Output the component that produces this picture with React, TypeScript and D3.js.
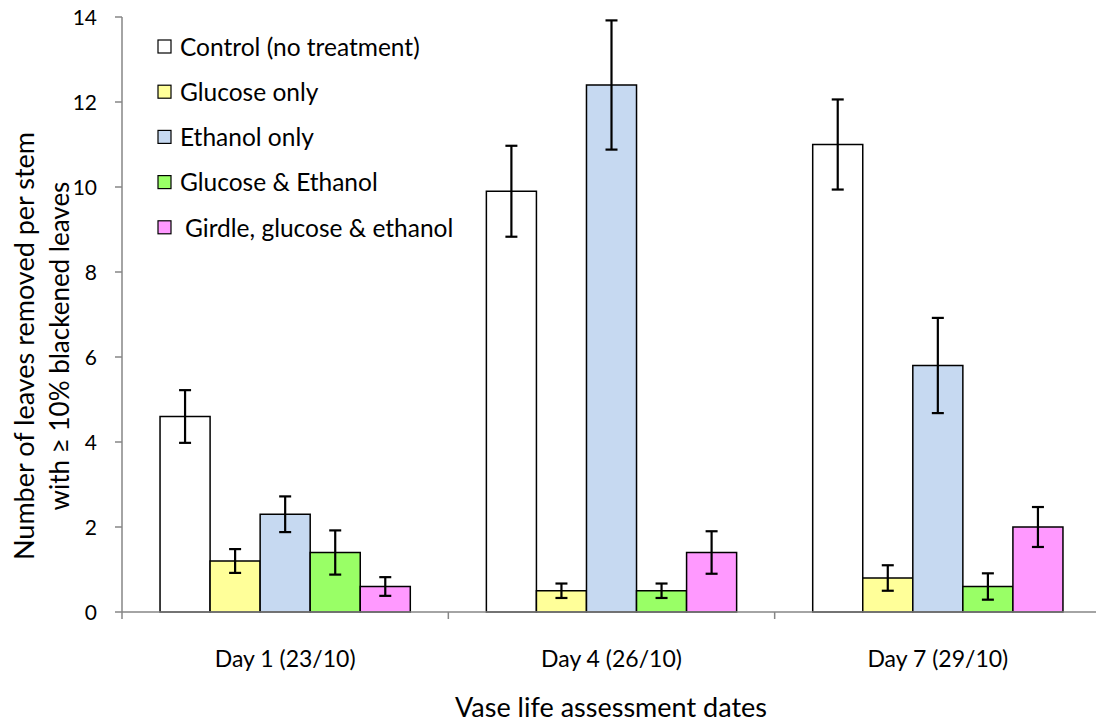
import React from "react";
import * as d3 from "d3";

const categories = ["Day 1 (23/10)", "Day 4 (26/10)", "Day 7 (29/10)"];
const seriesNames = [
  "Control (no treatment)",
  "Glucose only",
  "Ethanol only",
  "Glucose & Ethanol",
  "Girdle, glucose & ethanol",
];
const seriesColors = ["#FFFFFF", "#FFFF99", "#C6D9F1", "#99FF66", "#FF99FF"];
const control = [4.6, 9.9, 11.0];
const glucose = [1.2, 0.5, 0.8];
const ethanol = [2.3, 12.4, 5.8];
const glucoseEthanol = [1.4, 0.5, 0.6];
const girdle = [0.6, 1.4, 2.0];
const controlErr = [0.62, 1.07, 1.06];
const glucoseErr = [0.28, 0.17, 0.3];
const ethanolErr = [0.42, 1.52, 1.12];
const glucoseEthanolErr = [0.52, 0.17, 0.31];
const girdleErr = [0.22, 0.5, 0.47];
const yTicks = [0, 2, 4, 6, 8, 10, 12, 14];

const values = [control, glucose, ethanol, glucoseEthanol, girdle];
const errors = [controlErr, glucoseErr, ethanolErr, glucoseEthanolErr, girdleErr];

const FONT = "Lato, 'Open Sans', sans-serif";

export default function App() {
  const W = 1096, H = 724;
  const x0 = 122, x1 = 1101, yBottom = 612, yTop = 17;
  const x = d3.scaleBand<string>().domain(categories).range([x0, x1]).paddingInner(0).paddingOuter(0);
  const inner = d3
    .scaleBand<string>()
    .domain(seriesNames)
    .range([0, x.bandwidth()])
    .paddingOuter(38 / 50)
    .paddingInner(0);
  const y = d3.scaleLinear().domain([0, 14]).range([yBottom, yTop]);
  const bw = inner.bandwidth();
  const axisColor = "#868686";

  return (
    <svg width={W} height={H} style={{ position: "absolute", left: 0, top: 0, background: "#fff" }}>
      {/* bars */}
      {categories.map((c, ci) =>
        seriesNames.map((s, si) => {
          const bx = (x(c) as number) + (inner(s) as number);
          const v = values[si][ci];
          return (
            <rect
              key={c + s}
              x={bx}
              y={y(v)}
              width={bw}
              height={y(0) - y(v)}
              fill={seriesColors[si]}
              stroke="#000"
              strokeWidth={1.5}
            />
          );
        })
      )}
      {/* error bars */}
      {categories.map((c, ci) =>
        seriesNames.map((s, si) => {
          const cx = (x(c) as number) + (inner(s) as number) + bw / 2;
          const v = values[si][ci];
          const e = errors[si][ci];
          const t = y(v + e), b = y(v - e);
          return (
            <g key={"e" + c + s} stroke="#000" strokeWidth={2.2}>
              <line x1={cx} x2={cx} y1={t} y2={b} />
              <line x1={cx - 6} x2={cx + 6} y1={t} y2={t} />
              <line x1={cx - 6} x2={cx + 6} y1={b} y2={b} />
            </g>
          );
        })
      )}
      {/* y axis */}
      <line x1={x0} x2={x0} y1={yTop} y2={yBottom} stroke={axisColor} strokeWidth={1.5} />
      {yTicks.map((t) => (
        <g key={t}>
          <line x1={x0 - 7} x2={x0} y1={y(t)} y2={y(t)} stroke={axisColor} strokeWidth={1.5} />
          <text x={97} y={y(t)} dy="0.36em" textAnchor="end" fontFamily={FONT} fontSize={21} fill="#000">
            {t}
          </text>
        </g>
      ))}
      {/* x axis */}
      <line x1={x0} x2={W} y1={yBottom} y2={yBottom} stroke={axisColor} strokeWidth={1.5} />
      {categories.map((c) => (
        <line key={"t" + c} x1={x(c) as number} x2={x(c) as number} y1={yBottom} y2={yBottom + 7} stroke={axisColor} strokeWidth={1.5} />
      ))}
      {categories.map((c) => (
        <text
          key={"l" + c}
          x={(x(c) as number) + x.bandwidth() / 2}
          y={667}
          textAnchor="middle"
          fontFamily={FONT}
          fontSize={23}
          fill="#000"
        >
          {c}
        </text>
      ))}
      {/* axis titles */}
      <text x={611} y={717} textAnchor="middle" fontFamily={FONT} fontSize={27} fill="#000">
        Vase life assessment dates
      </text>
      <g transform="translate(34,346) rotate(-90)">
        <text x={0} y={0} textAnchor="middle" fontFamily={FONT} fontSize={27} fill="#000">
          Number of leaves removed per stem
        </text>
        <text x={0} y={35} textAnchor="middle" fontFamily={FONT} fontSize={26} fill="#000">
          with ≥ 10% blackened leaves
        </text>
      </g>
      {/* legend */}
      {seriesNames.map((s, i) => {
        const ly = 47 + i * 45.2;
        return (
          <g key={"lg" + s}>
            <rect x={158} y={ly - 7} width={13} height={13} fill={seriesColors[i]} stroke="#000" strokeWidth={1.2} />
            <text x={i === 4 ? 185 : 180} y={ly} dy="0.36em" fontFamily={FONT} fontSize={24.5} fill="#000">
              {s}
            </text>
          </g>
        );
      })}
    </svg>
  );
}
